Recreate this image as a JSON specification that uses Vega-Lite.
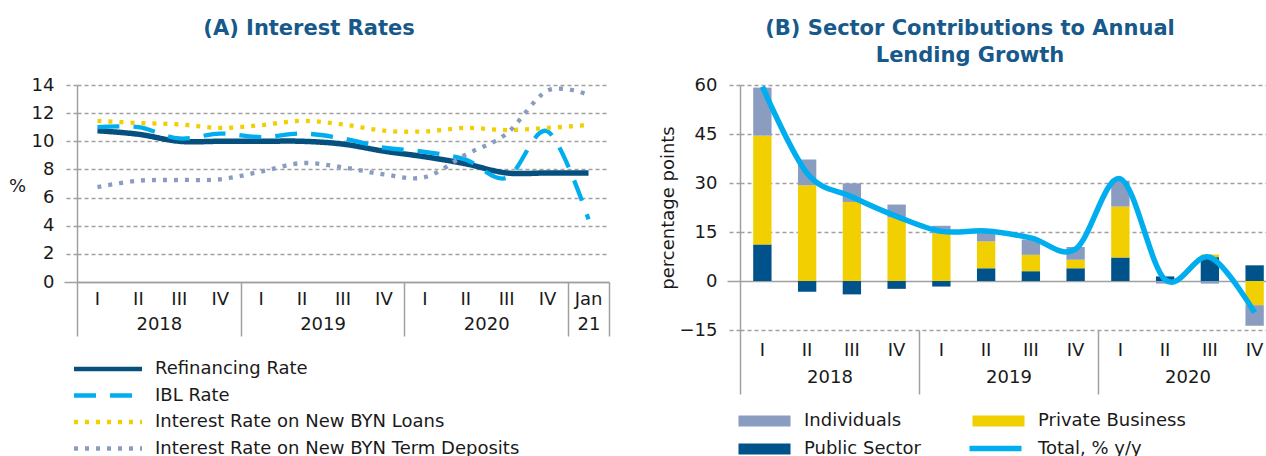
{
  "$schema": "https://vega.github.io/schema/vega-lite/v6.json",
  "background": "white",
  "padding": {"left": 8, "top": 17, "right": 0, "bottom": 0},
  "spacing": 49,
  "resolve": {"scale": {"color": "independent", "strokeDash": "independent", "stroke": "independent"}, "legend": {"color": "independent", "strokeDash": "independent", "stroke": "independent"}},
  "config": {
    "font": "DejaVu Sans",
    "view": {"stroke": null},
    "axis": {"labelFontSize": 18, "labelColor": "#1a1a1a", "titleFontSize": 18, "titleFontWeight": "normal", "titleColor": "#1a1a1a", "domainColor": "#a0a0a0", "tickColor": "#a0a0a0", "gridColor": "#a0a0a0", "domainWidth": 1.5, "tickWidth": 1.5, "gridWidth": 1.3},
    "legend": {"labelFontSize": 18, "labelColor": "#1a1a1a", "labelLimit": 600},
    "title": {"fontSize": 21, "fontWeight": "bold", "color": "#17598A"}
  },
  "datasets": {
    "rates": [
      {"series": "Refinancing Rate", "q": "2018 I", "value": 10.75},
      {"series": "Refinancing Rate", "q": "2018 II", "value": 10.5},
      {"series": "Refinancing Rate", "q": "2018 III", "value": 10.0},
      {"series": "Refinancing Rate", "q": "2018 IV", "value": 10.0},
      {"series": "Refinancing Rate", "q": "2019 I", "value": 10.0},
      {"series": "Refinancing Rate", "q": "2019 II", "value": 10.0},
      {"series": "Refinancing Rate", "q": "2019 III", "value": 9.8},
      {"series": "Refinancing Rate", "q": "2019 IV", "value": 9.3},
      {"series": "Refinancing Rate", "q": "2020 I", "value": 8.9},
      {"series": "Refinancing Rate", "q": "2020 II", "value": 8.4},
      {"series": "Refinancing Rate", "q": "2020 III", "value": 7.75},
      {"series": "Refinancing Rate", "q": "2020 IV", "value": 7.75},
      {"series": "Refinancing Rate", "q": "2021 Jan", "value": 7.75},
      {"series": "IBL Rate", "q": "2018 I", "value": 11.0},
      {"series": "IBL Rate", "q": "2018 II", "value": 11.0},
      {"series": "IBL Rate", "q": "2018 III", "value": 10.2},
      {"series": "IBL Rate", "q": "2018 IV", "value": 10.55},
      {"series": "IBL Rate", "q": "2019 I", "value": 10.3},
      {"series": "IBL Rate", "q": "2019 II", "value": 10.55},
      {"series": "IBL Rate", "q": "2019 III", "value": 10.2},
      {"series": "IBL Rate", "q": "2019 IV", "value": 9.55},
      {"series": "IBL Rate", "q": "2020 I", "value": 9.25},
      {"series": "IBL Rate", "q": "2020 II", "value": 8.7},
      {"series": "IBL Rate", "q": "2020 III", "value": 7.4},
      {"series": "IBL Rate", "q": "2020 IV", "value": 10.7},
      {"series": "IBL Rate", "q": "2021 Jan", "value": 4.45},
      {"series": "Interest Rate on New BYN Loans", "q": "2018 I", "value": 11.45},
      {"series": "Interest Rate on New BYN Loans", "q": "2018 II", "value": 11.3},
      {"series": "Interest Rate on New BYN Loans", "q": "2018 III", "value": 11.2},
      {"series": "Interest Rate on New BYN Loans", "q": "2018 IV", "value": 10.95},
      {"series": "Interest Rate on New BYN Loans", "q": "2019 I", "value": 11.15},
      {"series": "Interest Rate on New BYN Loans", "q": "2019 II", "value": 11.45},
      {"series": "Interest Rate on New BYN Loans", "q": "2019 III", "value": 11.2},
      {"series": "Interest Rate on New BYN Loans", "q": "2019 IV", "value": 10.75},
      {"series": "Interest Rate on New BYN Loans", "q": "2020 I", "value": 10.7},
      {"series": "Interest Rate on New BYN Loans", "q": "2020 II", "value": 10.95},
      {"series": "Interest Rate on New BYN Loans", "q": "2020 III", "value": 10.8},
      {"series": "Interest Rate on New BYN Loans", "q": "2020 IV", "value": 10.95},
      {"series": "Interest Rate on New BYN Loans", "q": "2021 Jan", "value": 11.15},
      {"series": "Interest Rate on New BYN Term Deposits", "q": "2018 I", "value": 6.75},
      {"series": "Interest Rate on New BYN Term Deposits", "q": "2018 II", "value": 7.2},
      {"series": "Interest Rate on New BYN Term Deposits", "q": "2018 III", "value": 7.25},
      {"series": "Interest Rate on New BYN Term Deposits", "q": "2018 IV", "value": 7.3},
      {"series": "Interest Rate on New BYN Term Deposits", "q": "2019 I", "value": 7.85},
      {"series": "Interest Rate on New BYN Term Deposits", "q": "2019 II", "value": 8.45},
      {"series": "Interest Rate on New BYN Term Deposits", "q": "2019 III", "value": 8.15},
      {"series": "Interest Rate on New BYN Term Deposits", "q": "2019 IV", "value": 7.65},
      {"series": "Interest Rate on New BYN Term Deposits", "q": "2020 I", "value": 7.45},
      {"series": "Interest Rate on New BYN Term Deposits", "q": "2020 II", "value": 9.05},
      {"series": "Interest Rate on New BYN Term Deposits", "q": "2020 III", "value": 10.55},
      {"series": "Interest Rate on New BYN Term Deposits", "q": "2020 IV", "value": 13.6},
      {"series": "Interest Rate on New BYN Term Deposits", "q": "2021 Jan", "value": 13.3}
    ],
    "sectors": [
      {"q": "2018 I", "sector": "Public Sector", "value": 11.2},
      {"q": "2018 I", "sector": "Private Business", "value": 33.3},
      {"q": "2018 I", "sector": "Individuals", "value": 14.7},
      {"q": "2018 II", "sector": "Public Sector", "value": -3.3},
      {"q": "2018 II", "sector": "Private Business", "value": 29.3},
      {"q": "2018 II", "sector": "Individuals", "value": 7.9},
      {"q": "2018 III", "sector": "Public Sector", "value": -4.1},
      {"q": "2018 III", "sector": "Private Business", "value": 24.2},
      {"q": "2018 III", "sector": "Individuals", "value": 5.7},
      {"q": "2018 IV", "sector": "Public Sector", "value": -2.4},
      {"q": "2018 IV", "sector": "Private Business", "value": 19.5},
      {"q": "2018 IV", "sector": "Individuals", "value": 3.9},
      {"q": "2019 I", "sector": "Public Sector", "value": -1.7},
      {"q": "2019 I", "sector": "Private Business", "value": 14.6},
      {"q": "2019 I", "sector": "Individuals", "value": 2.3},
      {"q": "2019 II", "sector": "Public Sector", "value": 3.9},
      {"q": "2019 II", "sector": "Private Business", "value": 8.2},
      {"q": "2019 II", "sector": "Individuals", "value": 2.9},
      {"q": "2019 III", "sector": "Public Sector", "value": 3.0},
      {"q": "2019 III", "sector": "Private Business", "value": 5.0},
      {"q": "2019 III", "sector": "Individuals", "value": 4.7},
      {"q": "2019 IV", "sector": "Public Sector", "value": 3.9},
      {"q": "2019 IV", "sector": "Private Business", "value": 2.6},
      {"q": "2019 IV", "sector": "Individuals", "value": 3.9},
      {"q": "2020 I", "sector": "Public Sector", "value": 7.2},
      {"q": "2020 I", "sector": "Private Business", "value": 15.6},
      {"q": "2020 I", "sector": "Individuals", "value": 7.9},
      {"q": "2020 II", "sector": "Public Sector", "value": 1.4},
      {"q": "2020 II", "sector": "Private Business", "value": 0.0},
      {"q": "2020 II", "sector": "Individuals", "value": -0.8},
      {"q": "2020 III", "sector": "Public Sector", "value": 7.3},
      {"q": "2020 III", "sector": "Private Business", "value": 0.8},
      {"q": "2020 III", "sector": "Individuals", "value": -0.8},
      {"q": "2020 IV", "sector": "Public Sector", "value": 4.8},
      {"q": "2020 IV", "sector": "Private Business", "value": -7.4},
      {"q": "2020 IV", "sector": "Individuals", "value": -6.3}
    ],
    "total": [
      {"q": "2018 I", "series": "Total, % y/y", "value": 59.5},
      {"q": "2018 II", "series": "Total, % y/y", "value": 33.0},
      {"q": "2018 III", "series": "Total, % y/y", "value": 25.8},
      {"q": "2018 IV", "series": "Total, % y/y", "value": 19.8},
      {"q": "2019 I", "series": "Total, % y/y", "value": 15.2},
      {"q": "2019 II", "series": "Total, % y/y", "value": 15.3},
      {"q": "2019 III", "series": "Total, % y/y", "value": 13.2},
      {"q": "2019 IV", "series": "Total, % y/y", "value": 9.8},
      {"q": "2020 I", "series": "Total, % y/y", "value": 31.3},
      {"q": "2020 II", "series": "Total, % y/y", "value": 0.4},
      {"q": "2020 III", "series": "Total, % y/y", "value": 7.3},
      {"q": "2020 IV", "series": "Total, % y/y", "value": -9.7}
    ]
  },
  "hconcat": [
    {
      "width": 532,
      "height": 197,
      "title": {"text": "(A) Interest Rates", "anchor": "middle", "dx": -34, "offset": 16, "baseline": "bottom"},
      "data": {"name": "rates"},
      "encoding": {
        "y": {
          "field": "value", "type": "quantitative",
          "scale": {"domain": [0, 14], "nice": false},
          "axis": {
            "values": [0, 2, 4, 6, 8, 10, 12, 14],
            "title": "%", "titleAngle": 0, "titleX": -60, "titleY": 101, "titleAlign": "center", "titleBaseline": "middle",
            "tickSize": 13, "labelPadding": 10, "grid": true, "domain": true,
            "tickDash": {"condition": {"test": "datum.value == 0", "value": [1, 0]}, "value": [4, 3]},
            "gridDash": {"condition": {"test": "datum.value == 0", "value": [1, 0]}, "value": [4, 3]}
          }
        },
        "color": {
          "field": "series", "type": "nominal",
          "scale": {
            "domain": ["Refinancing Rate", "IBL Rate", "Interest Rate on New BYN Loans", "Interest Rate on New BYN Term Deposits"],
            "range": ["#06507F", "#00AEEF", "#F2CF00", "#8A9DC1"]
          },
          "legend": {"title": null, "orient": "none", "legendX": 20, "legendY": 273, "symbolType": "M-4,0H4", "symbolSize": 289, "symbolStrokeWidth": 4.5, "labelOffset": 36, "rowPadding": 6.5, "direction": "vertical"}
        },
        "strokeDash": {
          "field": "series", "type": "nominal",
          "scale": {
            "domain": ["Refinancing Rate", "IBL Rate", "Interest Rate on New BYN Loans", "Interest Rate on New BYN Term Deposits"],
            "range": [[1, 0], [22, 14], [4, 7], [4, 7]]
          },
          "legend": {"title": null, "orient": "none", "legendX": 20, "legendY": 273, "symbolType": "M-4,0H4", "symbolSize": 289, "symbolStrokeWidth": 4.5, "labelOffset": 36, "rowPadding": 6.5, "direction": "vertical"}
        }
      },
      "layer": [
        {
          "transform": [{"filter": "datum.series == 'Refinancing Rate'"}],
          "mark": {"type": "line", "interpolate": "cardinal", "strokeWidth": 5.5},
          "encoding": {
            "x": {
              "field": "q", "type": "nominal", "sort": null, "bandPosition": 0.5,
              "scale": {"type": "band", "paddingInner": 0, "paddingOuter": 0, "domain": ["2018 I", "2018 II", "2018 III", "2018 IV", "2019 I", "2019 II", "2019 III", "2019 IV", "2020 I", "2020 II", "2020 III", "2020 IV", "2021 Jan"]},
              "axis": {"orient": "bottom", "title": null, "ticks": false, "domain": true, "grid": false, "labelAngle": 0, "labelExpr": "split(datum.value, ' ')[1]", "labelPadding": 17, "labelBaseline": "middle", "labelOverlap": false}
            }
          }
        },
        {
          "transform": [{"filter": "datum.series != 'Refinancing Rate'"}],
          "mark": {"type": "line", "interpolate": "cardinal", "strokeWidth": 4.3},
          "encoding": {
            "x": {
              "field": "q", "type": "nominal", "sort": null, "bandPosition": 0.5,
              "scale": {"type": "band", "paddingInner": 0, "paddingOuter": 0, "domain": ["2018 I", "2018 II", "2018 III", "2018 IV", "2019 I", "2019 II", "2019 III", "2019 IV", "2020 I", "2020 II", "2020 III", "2020 IV", "2021 Jan"]},
              "axis": {
                "orient": "bottom", "title": null, "domain": false, "grid": false, "ticks": true, "tickBand": "extent", "tickSize": 54, "labelAngle": 0,
                "tickOpacity": {"condition": {"test": "datum.extra || indexof(['2018 IV','2019 IV','2020 IV','2021 Jan'], datum.value) >= 0", "value": 1}, "value": 0},
                "labelExpr": "split(datum.value, ' ')[1] == 'II' ? split(datum.value, ' ')[0] : (split(datum.value, ' ')[1] == 'Jan' ? '21' : '')",
                "labelOffset": {"condition": {"test": "split(datum.value, ' ')[1] == 'II'", "value": 20.46}, "value": 0},
                "labelPadding": -12, "labelBaseline": "middle", "labelOverlap": false
              }
            }
          }
        }
      ],
      "resolve": {"axis": {"x": "independent"}}
    },
    {
      "width": 537,
      "height": 245,
      "title": {"text": ["(B) Sector Contributions to Annual", "Lending Growth"], "anchor": "middle", "dx": -38.5, "offset": -11, "baseline": "bottom", "lineHeight": 27},
      "layer": [
        {
          "data": {"name": "sectors"},
          "mark": {"type": "bar", "width": {"band": 0.41}},
          "encoding": {
            "x": {
              "field": "q", "type": "nominal", "sort": null,
              "scale": {"type": "band", "paddingInner": 0, "paddingOuter": 0, "domain": ["2018 I", "2018 II", "2018 III", "2018 IV", "2019 I", "2019 II", "2019 III", "2019 IV", "2020 I", "2020 II", "2020 III", "2020 IV"]},
              "axis": {"orient": "bottom", "title": null, "ticks": false, "domain": false, "grid": false, "labelAngle": 0, "labelExpr": "split(datum.value, ' ')[1]", "labelPadding": 20, "labelBaseline": "middle", "labelOverlap": false}
            },
            "y": {
              "field": "value", "type": "quantitative", "stack": "zero", "title": "percentage points",
              "scale": {"domain": [-15, 60], "nice": false},
              "axis": {
                "values": [-15, 0, 15, 30, 45, 60], "titlePadding": 2,
                "tickSize": 13, "labelPadding": 10, "grid": true, "domain": true,
                "tickDash": {"condition": {"test": "datum.value == 0", "value": [1, 0]}, "value": [4, 3]},
                "gridDash": {"condition": {"test": "datum.value == 0", "value": [1, 0]}, "value": [4, 3]}
              }
            },
            "color": {
              "field": "sector", "type": "nominal",
              "scale": {"domain": ["Individuals", "Private Business", "Public Sector"], "range": ["#8A9DC1", "#F2CF00", "#00538A"]},
              "legend": {"title": null, "orient": "none", "direction": "horizontal", "legendX": 15.5, "legendY": 327, "columns": 2, "columnPadding": 50, "rowPadding": 10, "symbolType": "M-3.06,-0.65H3.06V0.65H-3.06Z", "symbolSize": 289, "symbolStrokeWidth": 0, "labelOffset": 30.5}
            },
            "order": {"field": "sector", "sort": "descending"}
          }
        },
        {
          "data": {"name": "total"},
          "mark": {"type": "line", "interpolate": "cardinal", "strokeWidth": 5.5},
          "encoding": {
            "x": {
              "field": "q", "type": "nominal", "sort": null, "bandPosition": 0.5,
              "scale": {"type": "band", "paddingInner": 0, "paddingOuter": 0, "domain": ["2018 I", "2018 II", "2018 III", "2018 IV", "2019 I", "2019 II", "2019 III", "2019 IV", "2020 I", "2020 II", "2020 III", "2020 IV"]},
              "axis": {
                "orient": "bottom", "title": null, "domain": false, "grid": false, "ticks": true, "tickBand": "extent", "tickSize": 64, "labelAngle": 0,
                "tickOpacity": {"condition": {"test": "datum.extra || indexof(['2018 IV','2019 IV'], datum.value) >= 0", "value": 1}, "value": 0},
                "labelExpr": "split(datum.value, ' ')[1] == 'II' ? split(datum.value, ' ')[0] : ''",
                "labelOffset": {"condition": {"test": "split(datum.value, ' ')[1] == 'II'", "value": 22.375}, "value": 0},
                "labelPadding": -17, "labelBaseline": "middle", "labelOverlap": false
              }
            },
            "y": {"field": "value", "type": "quantitative", "title": "percentage points"},
            "stroke": {
              "field": "series", "type": "nominal",
              "scale": {"domain": ["Total, % y/y"], "range": ["#00AEEF"]},
              "legend": {"title": null, "orient": "none", "legendX": 244, "legendY": 352, "symbolType": "M-3.06,0H3.06", "symbolSize": 289, "symbolStrokeWidth": 5.5, "labelOffset": 31}
            }
          }
        }
      ],
      "resolve": {"axis": {"x": "independent"}}
    }
  ]
}
